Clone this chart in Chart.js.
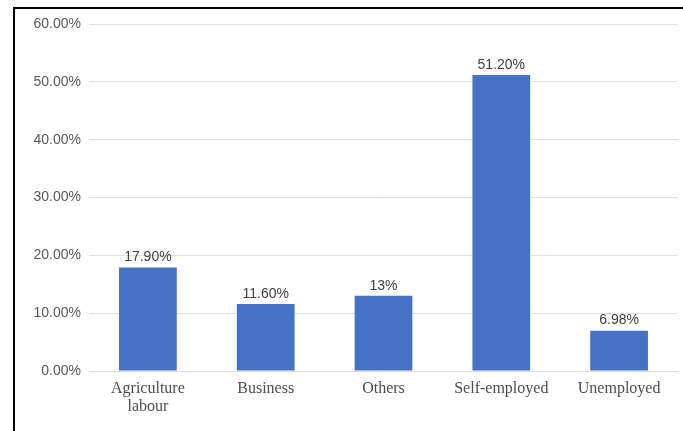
<!DOCTYPE html>
<html>
<head>
<meta charset="utf-8">
<script src="https://cdn.jsdelivr.net/npm/chart.js@4/dist/chart.umd.min.js"></script>
<style>
  html, body { margin: 0; padding: 0; background: #fff; }
  #wrap { position: relative; width: 683px; height: 431px; }
  #frame { position: absolute; left: 13px; top: 7px; right: 0; bottom: 0;
           border-left: 2px solid #000; border-top: 2px solid #000; pointer-events: none; }
</style>
</head>
<body>
<div id="wrap">
  <canvas id="grafica" width="683" height="431"></canvas>
  <div id="frame"></div>
</div>
<script>
const categorias = [['Agriculture', 'labour'], 'Business', 'Others', 'Self-employed', 'Unemployed'];
const valores = [17.90, 11.60, 13, 51.20, 6.98];
const etiquetas = ['17.90%', '11.60%', '13%', '51.20%', '6.98%'];
const marcasY = [0, 10, 20, 30, 40, 50, 60];

// escribe el porcentaje encima de cada barra
const etiquetasBarras = {
    id: 'etiquetasBarras',
    afterDatasetsDraw(chart) {
        const ctx = chart.ctx;
        const meta = chart.getDatasetMeta(0);
        ctx.save();
        ctx.font = '14px "Liberation Sans", Arial, sans-serif';
        ctx.fillStyle = '#404040';
        ctx.textAlign = 'center';
        ctx.textBaseline = 'bottom';
        meta.data.forEach((barra, i) => {
            ctx.fillText(etiquetas[i], barra.x, barra.y - 3);
        });
        ctx.restore();
    }
};

new Chart(document.getElementById('grafica').getContext('2d'), {
    type: 'bar',
    data: {
        labels: categorias,
        datasets: [{
            data: valores,
            backgroundColor: '#4472C4',
            barPercentage: 0.98,
            categoryPercentage: 0.5
        }]
    },
    options: {
        responsive: false,
        animation: false,
        layout: { padding: { top: 24, right: 5, left: 0, bottom: 0 } },
        plugins: { legend: { display: false }, tooltip: { enabled: false } },
        scales: {
            x: {
                grid: { display: false, drawTicks: false },
                border: { display: false },
                ticks: {
                    color: '#4d4d4d',
                    padding: 9,
                    maxRotation: 0,
                    font: { family: '"Liberation Serif", "Times New Roman", serif', size: 16, lineHeight: 1.1 }
                },
                afterFit(scale) { scale.height = 60; }
            },
            y: {
                min: 0,
                max: 60,
                afterBuildTicks(scale) { scale.ticks = marcasY.map(v => ({ value: v })); },
                grid: { color: '#e0e0e0', drawTicks: false },
                border: { display: false },
                ticks: {
                    color: '#595959',
                    padding: 8,
                    font: { family: '"Liberation Sans", Arial, sans-serif', size: 14 },
                    callback: v => v.toFixed(2) + '%'
                },
                afterFit(scale) { scale.width = 89; }
            }
        }
    },
    plugins: [etiquetasBarras]
});
</script>
</body>
</html>
